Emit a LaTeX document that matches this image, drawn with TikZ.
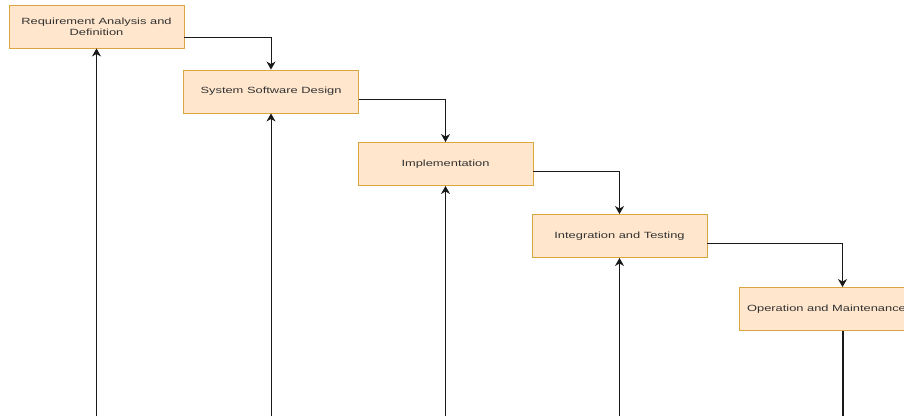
\documentclass[tikz,border=0pt]{standalone}
\usepackage{fontspec}
\newfontfamily\boxfont[FakeStretch=1.43]{Liberation Sans}
\usetikzlibrary{arrows.meta}
\definecolor{boxfill}{HTML}{FFE6CC}
\definecolor{boxline}{HTML}{D9A640}
\definecolor{txt}{HTML}{333333}
\definecolor{ln}{HTML}{1A1A1A}
\tikzset{
  phase/.style={draw=boxline, fill=boxfill, line width=0.9pt, minimum width=175pt, minimum height=43pt,
    inner sep=0pt, align=center, text=txt, font=\boxfont\fontsize{9}{11}\selectfont},
  flow/.style={draw=ln, line width=1pt, -{Stealth[length=8pt,width=9pt,inset=2.5pt]}},
  tail/.style={draw=ln, line width=2pt}
}
\begin{document}
\begin{tikzpicture}[x=1pt,y=-1pt]
\useasboundingbox (0,0) rectangle (904,416);
\clip (0,0) rectangle (904,416);
\fill[white] (0,0) rectangle (904,416);
\node[phase] (b1) at (96.5,26.5) {Requirement Analysis and\\Definition};
\node[phase] (b2) at (271,91.5) {System Software Design};
\node[phase] (b3) at (445.5,164) {Implementation};
\node[phase] (b4) at (619.5,236) {Integration and Testing};
\node[phase] (b5) at (826.5,309) {Operation and Maintenance};
\coordinate (f1) at (96.5,416);
\coordinate (f2) at (271,416);
\coordinate (f3) at (445.5,416);
\coordinate (f4) at (619.5,416);
\coordinate (f5) at (843,416);
\draw[flow] ([yshift=-10.5pt]b1.east) -| (b2.north);
\draw[flow] ([yshift=-7.5pt]b2.east) -| (b3.north);
\draw[flow] ([yshift=-7pt]b3.east) -| (b4.north);
\draw[flow] ([yshift=-7pt]b4.east) -| ([xshift=16pt]b5.north);
\draw[flow] (f1) -- (b1.south);
\draw[flow] (f2) -- (b2.south);
\draw[flow] (f3) -- (b3.south);
\draw[flow] (f4) -- (b4.south);
\draw[tail] ([xshift=16.5pt]b5.south) -- (f5);
\end{tikzpicture}
\end{document}
